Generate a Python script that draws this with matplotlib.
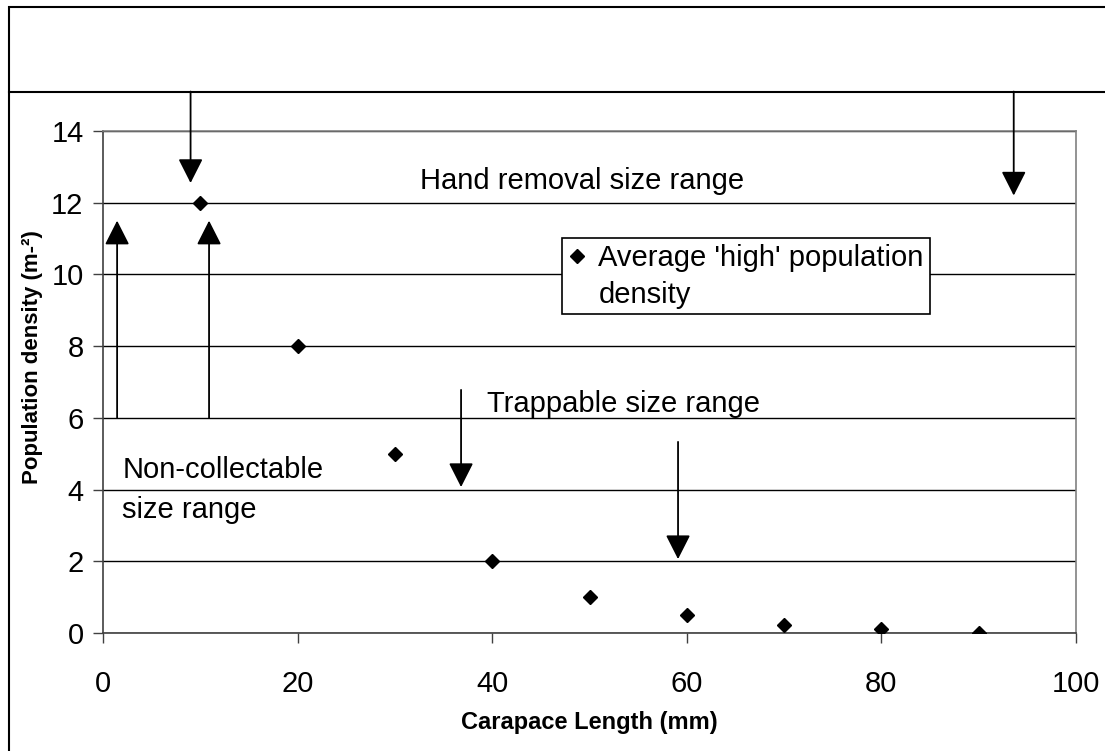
import matplotlib
matplotlib.use("Agg")
import matplotlib.pyplot as plt
from matplotlib.lines import Line2D
from matplotlib.patches import Rectangle

plt.rcParams['font.family'] = ['Liberation Sans', 'DejaVu Sans']

# Data
carapace_length = [10, 20, 30, 40, 50, 60, 70, 80, 90]
density = [12, 8, 5, 2, 1, 0.5, 0.23, 0.11, 0.0]
x_ticks = [0, 20, 40, 60, 80, 100]
y_ticks = [0, 2, 4, 6, 8, 10, 12, 14]

# Annotation arrows: (x, y_start, y_end)
arrows = [
    (9.0, 15.1, 12.55),
    (93.6, 15.1, 12.2),
    (1.45, 6.0, 11.5),
    (10.9, 6.0, 11.5),
    (36.8, 6.78, 4.07),
    (59.1, 5.33, 2.06),
]

W, H = 1105, 751
fig = plt.figure(figsize=(W / 100, H / 100), dpi=100)
ax = fig.add_axes([103 / W, 1 - 633 / H, (1076 - 103) / W, (633 - 131) / H])

ax.set_xlim(0, 100)
ax.set_ylim(0, 14)
ax.set_xticks(x_ticks)
ax.set_yticks(y_ticks)
ax.tick_params(axis='both', labelsize=21, length=7, width=1, direction='out',
               color='#404040', pad=7)
ax.tick_params(axis='x', pad=20)
ax.yaxis.grid(True, color='black', linewidth=1)
ax.set_axisbelow(True)
for s in ['top', 'right']:
    ax.spines[s].set_color('#808080')
ax.spines['left'].set_color('#404040')
ax.spines['bottom'].set_color('#404040')
for s in ax.spines.values():
    s.set_linewidth(1.2)

ax.plot(carapace_length, density, linestyle='none', marker='D', markersize=7.5,
        color='black', zorder=5)

for x, y0, y1 in arrows:
    ax.annotate('', xy=(x, y1), xytext=(x, y0), xycoords='data',
                annotation_clip=False,
                arrowprops=dict(arrowstyle='-|>,head_length=0.75,head_width=0.38',
                                mutation_scale=20, color='black', lw=1.3,
                                shrinkA=0, shrinkB=0))

ax.text(32.6, 12.6, 'Hand removal size range', fontsize=21, va='center', ha='left')
ax.text(39.5, 6.4, 'Trappable size range', fontsize=21, va='center', ha='left')
ax.text(2.0, 4.0, 'Non-collectable\nsize range', fontsize=21, va='center',
        ha='left', linespacing=1.55)

ax.set_xlabel('Carapace Length (mm)', fontsize=17, fontweight='bold', labelpad=9)
ax.set_ylabel('Population density (m-²)', fontsize=16, fontweight='bold')
ax.yaxis.set_label_coords(-0.0617, 0.55)

handles = [Line2D([], [], linestyle='none', marker='D', markersize=7.5, color='black'),
           Line2D([], [], linestyle='none')]
leg = ax.legend(handles, ["Average 'high' population", 'density'],
                loc='upper left', bbox_to_anchor=(562 / W, 1 - 238 / H),
                bbox_transform=fig.transFigure, fontsize=21, frameon=True,
                fancybox=False, edgecolor='black', framealpha=1,
                handlelength=0.6, handletextpad=0.45, borderpad=0.2,
                labelspacing=0.3, borderaxespad=0, handleheight=0.6)
leg.get_frame().set_linewidth(1.2)

# outer frame
fig.add_artist(Rectangle((8.5 / W, -0.05), 1.2, 1 - 7.5 / H + 0.05,
                         transform=fig.transFigure, fill=False,
                         edgecolor='black', linewidth=1.5))
fig.add_artist(Line2D([8.5 / W, 1.05], [1 - 92 / H, 1 - 92 / H],
                      transform=fig.transFigure, color='black', linewidth=1.5))

fig.savefig('out.png', dpi=100)
